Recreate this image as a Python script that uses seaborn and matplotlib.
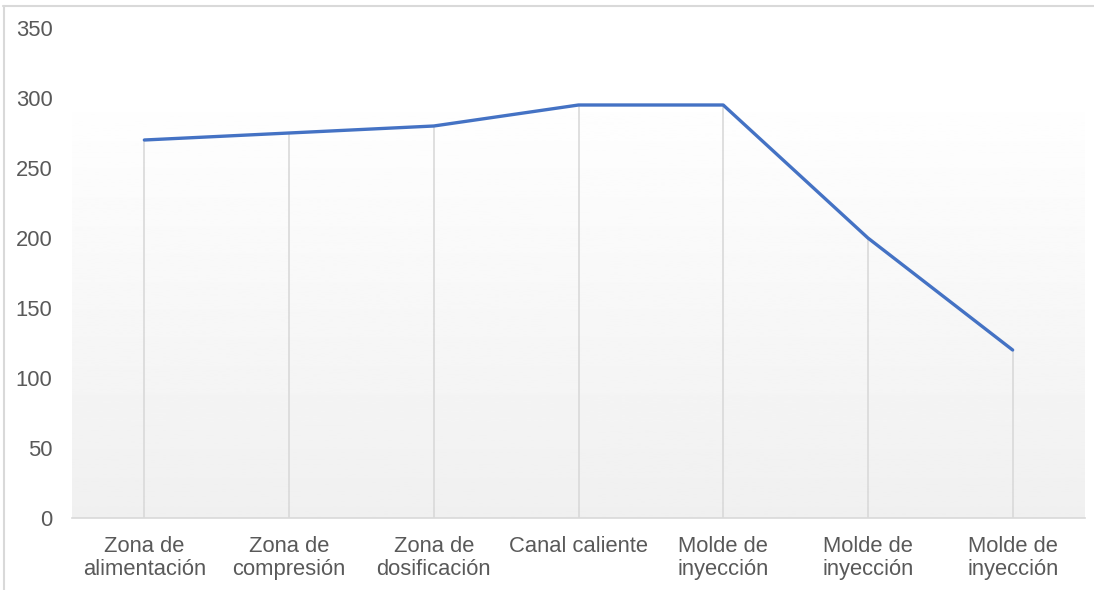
import numpy as np
import pandas as pd
import matplotlib
matplotlib.use("Agg")
import matplotlib.pyplot as plt
from matplotlib.lines import Line2D
import seaborn as sns

# Chart data
zonas = ["Zona de\nalimentación", "Zona de\ncompresión", "Zona de\ndosificación",
         "Canal caliente", "Molde de\ninyección", "Molde de\ninyección", "Molde de\ninyección"]
temperaturas = [270, 275, 280, 295, 295, 200, 120]
y_ticks = [0, 50, 100, 150, 200, 250, 300, 350]

df = pd.DataFrame({"pos": range(len(zonas)), "temp": temperaturas})

sns.set_style("white")
plt.rcParams["font.family"] = ["Liberation Sans", "DejaVu Sans"]

fig = plt.figure(figsize=(10.94, 5.90), dpi=100)
ax = fig.add_axes([72 / 1094, 72 / 590, 1013 / 1094, 490 / 590])

# Soft vertical gradient behind the plot
grad = np.linspace(0.94, 1.0, 256).reshape(-1, 1)
ax.imshow(grad, cmap="gray", vmin=0, vmax=1, aspect="auto", origin="lower",
          extent=(-0.5, 6.5, 0, 310), zorder=0)

# Drop lines from each point down to the axis
ax.vlines(df["pos"], 0, df["temp"], color="#d9d9d9", lw=1.2, zorder=1)

sns.lineplot(data=df, x="pos", y="temp", ax=ax, color="#4472C4", lw=2.4, zorder=3)

ax.set_xlim(-0.5, 6.5)
ax.set_ylim(0, 350)
ax.set_yticks(y_ticks)
ax.set_xticks(range(len(zonas)))
ax.set_xticklabels(zonas, linespacing=1.13)
ax.tick_params(axis="both", length=0, labelsize=15.8, labelcolor="#595959")
ax.tick_params(axis="y", pad=14)
ax.tick_params(axis="x", pad=13)
ax.set_xlabel("")
ax.set_ylabel("")
for side in ["top", "right", "left"]:
    ax.spines[side].set_visible(False)
ax.spines["bottom"].set_color("#d9d9d9")
ax.spines["bottom"].set_linewidth(1.2)

# Chart border (top and left edges visible)
fig.add_artist(Line2D([3 / 1094, 1], [1 - 5.5 / 590, 1 - 5.5 / 590], color="#d9d9d9", lw=1.5))
fig.add_artist(Line2D([3.5 / 1094, 3.5 / 1094], [0, 1 - 5.5 / 590], color="#d9d9d9", lw=1.5))

fig.savefig("out.png", dpi=100)
